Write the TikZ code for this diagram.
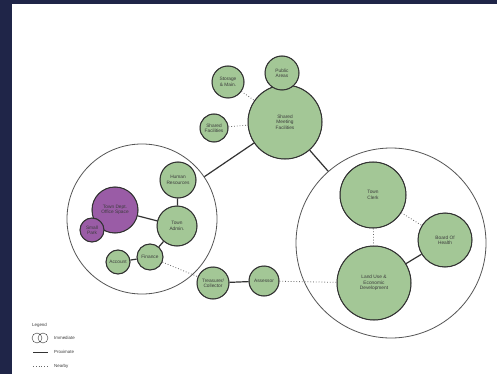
\documentclass[tikz,border=0pt]{standalone}
\usepackage{fontspec}
\setmainfont{Liberation Sans}
\begin{document}
\begin{tikzpicture}[x=1pt,y=-1pt,
  bubble/.style={circle,draw=inkc,line width=1pt,fill=leaf,text=txtc,align=center,font=\fontsize{4.8}{5.4}\selectfont,inner sep=0pt,
    postaction={draw=inkc,line width=0.5pt,shift={(0.8,-0.6)}}},
  purp/.style={bubble,fill=plum},
  zone/.style={circle,draw=zonec,line width=0.8pt,inner sep=0pt},
  prox/.style={draw=inkc,line width=1.2pt},
  near/.style={draw=dotc,line width=0.8pt,dotted},
  leg/.style={font=\fontsize{4.4}{5}\selectfont,text=txtc,anchor=west,inner sep=0pt}]
\definecolor{navy}{HTML}{1F2548}
\definecolor{leaf}{HTML}{A3C796}
\definecolor{plum}{HTML}{9A5CA6}
\definecolor{inkc}{HTML}{333333}
\definecolor{zonec}{HTML}{555555}
\definecolor{txtc}{HTML}{3C3C3C}
\definecolor{dotc}{HTML}{666666}
\useasboundingbox (0,0) rectangle (497,374);
\fill[navy] (0,0) rectangle (497,374);
\fill[white] (12,4) rectangle (497,374);
% zones
\node[zone,minimum size=150pt] (zl) at (142,219) {};
\node[zone,minimum size=190pt] (zr) at (391,243) {};
% top cluster
\node[bubble,minimum size=74pt] (smf) at (285,122) {Shared\\Meeting\\Facilities};
\node[bubble,minimum size=34pt] (pa) at (282,73) {Public\\Areas};
\node[bubble,minimum size=32pt] (st) at (228,82) {Storage\\\& Main.};
\node[bubble,minimum size=28pt] (sf) at (214,128) {Shared\\Facilities};
% left cluster
\node[bubble,minimum size=36pt] (hr) at (178,180) {Human\\Resources};
\node[purp,minimum size=46pt] (td) at (115,210) {Town Dept.\\Office Space};
\node[purp,minimum size=24pt] (sp) at (92,230) {Small\\Park};
\node[bubble,minimum size=40pt] (ta) at (177,226) {Town\\Admin.};
\node[bubble,minimum size=26pt] (fi) at (150,257) {Finance};
\node[bubble,minimum size=24pt] (ac) at (118,262) {Account};
% bottom
\node[bubble,minimum size=32pt] (tc) at (213,283) {Treasurer/\\Collector};
\node[bubble,minimum size=30pt] (as) at (264,281) {Assessor};
% right cluster
\node[bubble,minimum size=66pt] (cl) at (373,195) {Town\\Clerk};
\node[bubble,minimum size=54pt] (bh) at (445,240) {Board Of\\Health};
\node[bubble,minimum size=74pt] (lu) at (374,283) {Land Use \&\\Economic\\Development};
% connectors
\draw[near] (st) -- (smf);
\draw[near] (sf) -- (smf);
\draw[prox] (smf) -- (zl);
\draw[prox] (smf) -- (zr);
\draw[prox] (hr) -- (ta);
\draw[prox] (td) -- (ta);
\draw[prox] (ta) -- (fi);
\draw[prox] (fi) -- (ac);
\draw[near] (fi) -- (tc);
\draw[prox] (tc) -- (as);
\draw[near] (as) -- (lu);
\draw[near] (cl) -- (lu);
\draw[near] (cl) -- (bh);
\draw[prox] (bh) -- (lu);
% legend
\node[leg] (lg) at (32,325) {Legend};
\node[circle,draw=inkc,line width=0.4pt,minimum size=10pt,inner sep=0pt] (lc1) at (37,338) {};
\node[circle,draw=inkc,line width=0.4pt,minimum size=10pt,inner sep=0pt] (lc2) at (43,338) {};
\node[leg] (l1) at (54,338) {Immediate};
\coordinate (p1) at (33,352);
\coordinate (p2) at (48,352);
\draw[prox,line width=1pt] (p1) -- (p2);
\node[leg] (l2) at (54,352) {Proximate};
\coordinate (n1) at (33,366);
\coordinate (n2) at (48,366);
\draw[near,line width=0.6pt] (n1) -- (n2);
\node[leg] (l3) at (54,366) {Nearby};
\end{tikzpicture}
\end{document}
